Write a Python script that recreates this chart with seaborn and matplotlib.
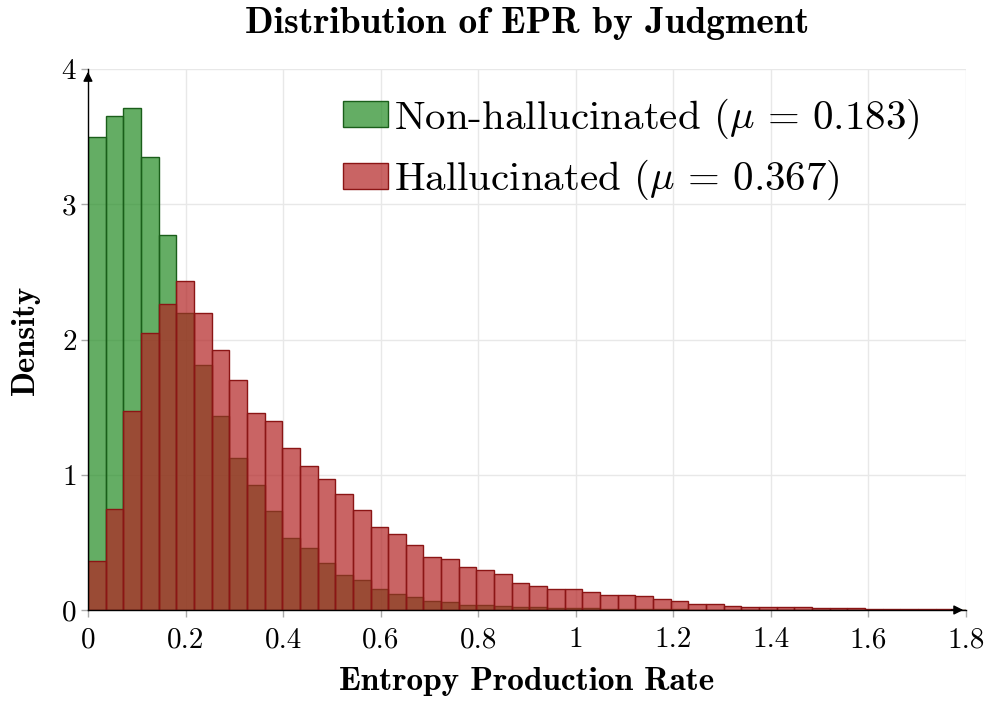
import numpy as np
import pandas as pd
import matplotlib
matplotlib.use("Agg")
import matplotlib.pyplot as plt
import seaborn as sns

# bin layout (50 bins from 0)
bin_width = 0.0362
n_bins = 50

# densities per bin
non_hall_density = [3.50, 3.654, 3.712, 3.347, 2.771, 2.195, 1.81, 1.435, 1.123, 0.925,
                    0.729, 0.531, 0.457, 0.346, 0.257, 0.220, 0.156, 0.116, 0.094, 0.064,
                    0.057, 0.040, 0.037, 0.027, 0.025, 0.020, 0.018, 0.015, 0.012, 0.010,
                    0.008, 0.007, 0.005, 0.004, 0.003, 0.003, 0.002, 0.002, 0.001, 0.001,
                    0.001, 0.001, 0.0, 0.0, 0.0, 0.0, 0.0, 0.0, 0.0, 0.0]
hall_density = [0.359, 0.745, 1.472, 2.048, 2.259, 2.43, 2.195, 1.921, 1.704, 1.458,
                1.40, 1.20, 1.062, 0.968, 0.854, 0.736, 0.610, 0.563, 0.479, 0.395,
                0.380, 0.316, 0.296, 0.269, 0.198, 0.178, 0.158, 0.158, 0.131, 0.114,
                0.111, 0.104, 0.079, 0.064, 0.044, 0.047, 0.027, 0.025, 0.022, 0.020,
                0.022, 0.017, 0.012, 0.015, 0.010, 0.007, 0.006, 0.005, 0.004, 0.003]
labels = [r"Non-hallucinated ($\mu\,=\,0.183$)", r"Hallucinated ($\mu\,=\,0.367$)"]
xtick_labels = ["0", "0.2", "0.4", "0.6", "0.8", "1", "1.2", "1.4", "1.6", "1.8"]

sns.set_theme(style="white")
plt.rcParams["font.family"] = ["cmr10", "DejaVu Serif"]
plt.rcParams["mathtext.fontset"] = "cm"
plt.rcParams["axes.formatter.use_mathtext"] = True
for key in ["text.color", "axes.labelcolor", "xtick.labelcolor", "ytick.labelcolor"]:
    plt.rcParams[key] = "black"

edges = (np.arange(n_bins + 1) * bin_width).tolist()
centers = [(a + b) / 2 for a, b in zip(edges[:-1], edges[1:])]
df_non = pd.DataFrame({"epr": centers, "density": non_hall_density})
df_hall = pd.DataFrame({"epr": centers, "density": hall_density})

fig = plt.figure(figsize=(9.95, 7.03), dpi=100)
ax = fig.add_axes([0.0884, 0.1323, 0.8825, 0.7695])

# grid behind bars
ax.set_axisbelow(True)
ax.grid(True, color="#e8e8e8", linewidth=1.0)

sns.histplot(data=df_non, x="epr", weights="density", bins=edges, stat="count",
             color="#228B22", alpha=0.7, edgecolor="#1a5e1a", linewidth=1.0,
             label=labels[0], ax=ax)
sns.histplot(data=df_hall, x="epr", weights="density", bins=edges, stat="count",
             color="#B22222", alpha=0.7, edgecolor="#8b1515", linewidth=1.0,
             label=labels[1], ax=ax)

ax.set_xlim(0, 1.8)
ax.set_ylim(0, 4)
ax.set_xticks(np.arange(0, 1.81, 0.2))
ax.set_xticklabels(xtick_labels)
ax.set_yticks([0, 1, 2, 3, 4])
ax.tick_params(axis="both", which="major", labelsize=21, length=5, width=1,
               color="#aaaaaa", direction="out", pad=3, bottom=True, left=True)
ax.tick_params(axis="x", pad=7)

for s in ["top", "right"]:
    ax.spines[s].set_visible(False)
for s in ["left", "bottom"]:
    ax.spines[s].set_color("black")
    ax.spines[s].set_linewidth(1.0)

# axis arrows
ax.annotate("", xy=(1.0, 0), xytext=(0.98, 0), xycoords="axes fraction",
            arrowprops=dict(arrowstyle="-|>", color="black", lw=1.0,
                            mutation_scale=14))
ax.annotate("", xy=(0, 1.0), xytext=(0, 0.98), xycoords="axes fraction",
            arrowprops=dict(arrowstyle="-|>", color="black", lw=1.0,
                            mutation_scale=14))

ax.set_xlabel("Entropy Production Rate", fontsize=24, family="cmb10", labelpad=10)
ax.set_ylabel("Density", fontsize=23.5, family="cmb10", labelpad=15)
ax.set_title("Distribution of EPR by Judgment", fontsize=27, family="cmb10", pad=26)

leg = ax.legend(loc="upper right", bbox_to_anchor=(0.975, 0.995), frameon=False,
                fontsize=29.5, handlelength=1.1, handleheight=0.6,
                handletextpad=0.15, labelspacing=0.42, borderaxespad=0.2)

fig.savefig("out.png", dpi=100)
